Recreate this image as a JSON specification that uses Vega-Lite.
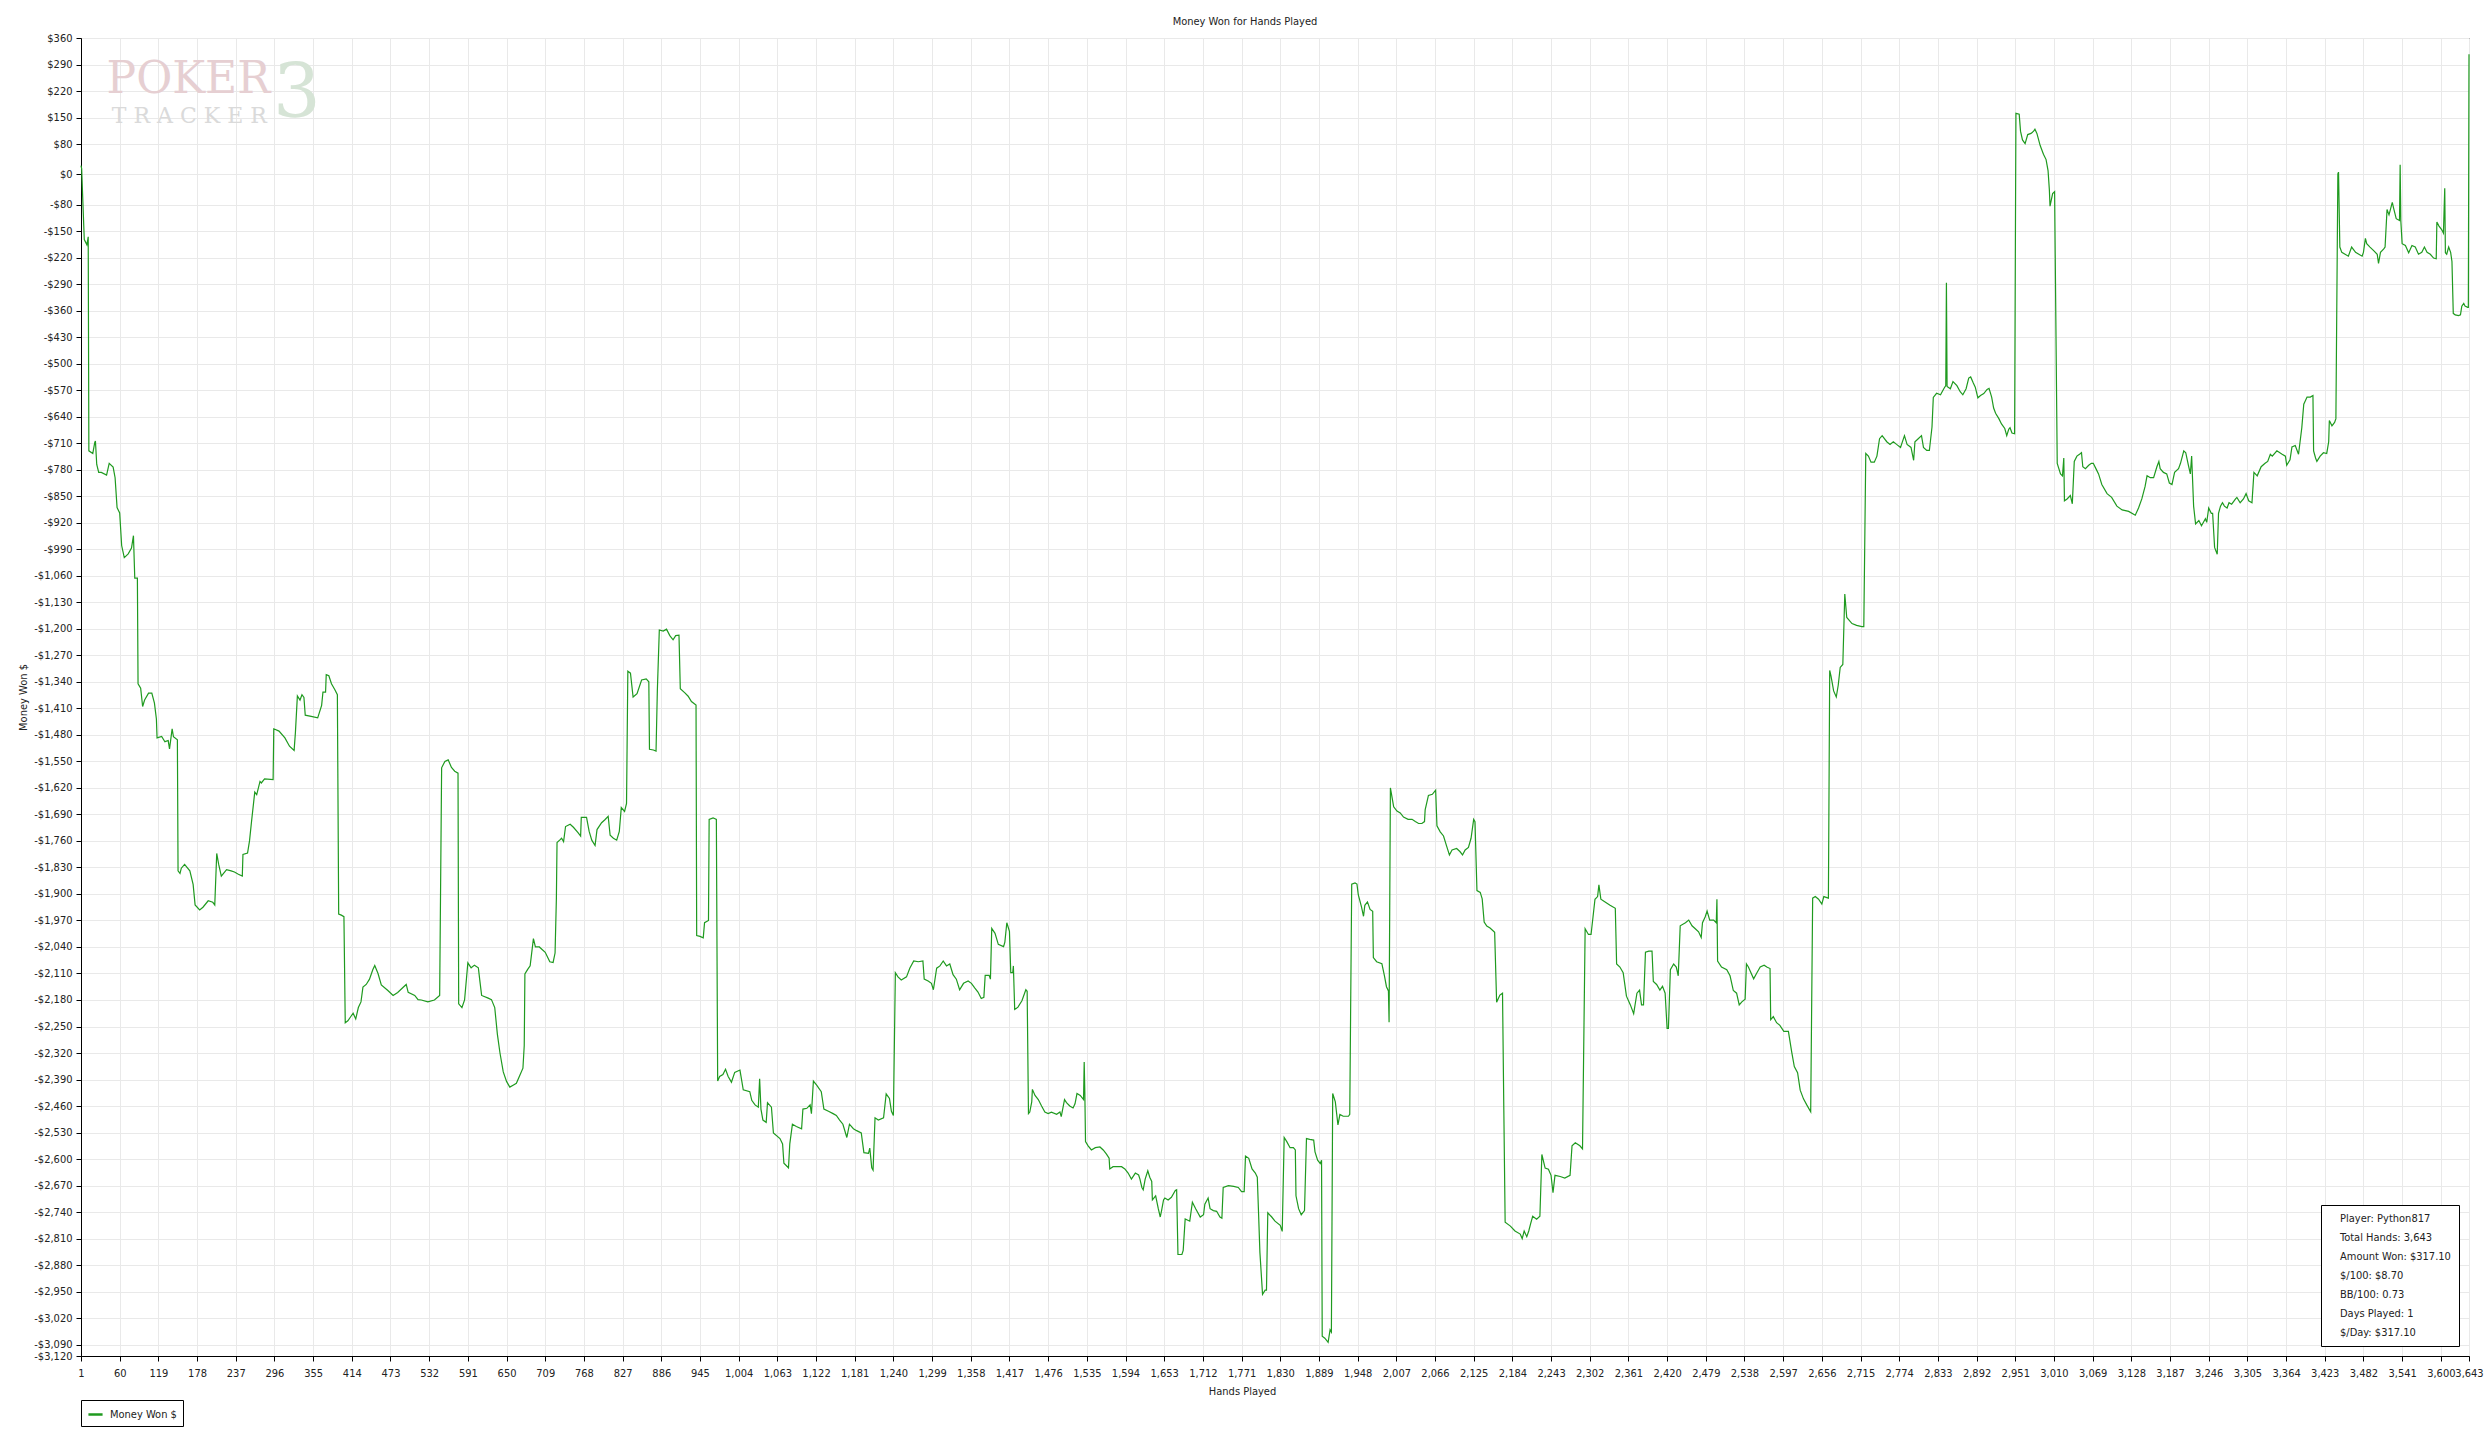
{
  "$schema": "https://vega.github.io/schema/vega-lite/v6.json",
  "autosize": {"type": "none"},
  "width": 2388,
  "height": 1318,
  "padding": {"left": 81, "top": 38, "right": 21, "bottom": 86},
  "background": "white",
  "config": {
    "font": "DejaVu Sans Condensed, Liberation Sans, sans-serif",
    "view": {"stroke": "black", "strokeWidth": 1},
    "axis": {
      "domainColor": "black", "tickColor": "black", "tickSize": 5,
      "labelFontSize": 11, "labelColor": "#222", "gridColor": "#e9e9e9",
      "titleFontSize": 11, "titleFontWeight": "normal", "titleColor": "#222",
      "labelOverlap": false, "labelFlush": false
    },
    "title": {"fontSize": 11, "fontWeight": "normal", "color": "#222"}
  },
  "title": {"text": "Money Won for Hands Played", "offset": 5, "dx": -30},
  "layer": [
    {
      "data": {"values": [{"word": "POKER"}]},
      "mark": {"type": "text", "font": "DejaVu Serif", "fontSize": 44, "fill": "#e6cfd2", "align": "left", "baseline": "middle"},
      "encoding": {"x": {"datum": 40, "type": "quantitative"}, "y": {"datum": 250, "type": "quantitative"}, "text": {"field": "word", "type": "nominal"}}
    },
    {
      "data": {"values": [{"word": "T R A C K E R"}]},
      "mark": {"type": "text", "font": "DejaVu Serif", "fontSize": 22, "fill": "#dadada", "align": "left", "baseline": "middle"},
      "encoding": {"x": {"datum": 48, "type": "quantitative"}, "y": {"datum": 154, "type": "quantitative"}, "text": {"field": "word", "type": "nominal"}}
    },
    {
      "data": {"values": [{"word": "3"}]},
      "mark": {"type": "text", "font": "DejaVu Serif", "fontSize": 75, "fill": "#d6e4d6", "align": "left", "baseline": "middle"},
      "encoding": {"x": {"datum": 294, "type": "quantitative"}, "y": {"datum": 211, "type": "quantitative"}, "text": {"field": "word", "type": "nominal"}}
    },
    {
      "data": {"values": [
        {"hand":1,"won":23},{"hand":2,"won":15},{"hand":4,"won":-80},{"hand":6,"won":-172},{"hand":8,"won":-179},{"hand":10,"won":-186},{"hand":12,"won":-165},{"hand":13,"won":-730},{"hand":19,"won":-737},{"hand":22,"won":-708},{"hand":23,"won":-704},{"hand":25,"won":-766},{"hand":28,"won":-787},{"hand":32,"won":-787},{"hand":40,"won":-794},{"hand":44,"won":-763},{"hand":50,"won":-773},{"hand":53,"won":-801},{"hand":56,"won":-880},{"hand":60,"won":-894},{"hand":63,"won":-980},{"hand":67,"won":-1012},{"hand":73,"won":-1002},{"hand":78,"won":-987},{"hand":81,"won":-954},{"hand":83,"won":-1066},{"hand":87,"won":-1066},{"hand":88,"won":-1345},{"hand":92,"won":-1357},{"hand":95,"won":-1405},{"hand":98,"won":-1388},{"hand":104,"won":-1370},{"hand":109,"won":-1370},{"hand":113,"won":-1396},{"hand":116,"won":-1438},{"hand":117,"won":-1488},{"hand":124,"won":-1484},{"hand":129,"won":-1498},{"hand":134,"won":-1495},{"hand":136,"won":-1517},{"hand":140,"won":-1464},{"hand":142,"won":-1485},{"hand":148,"won":-1493},{"hand":149,"won":-1839},{"hand":152,"won":-1846},{"hand":154,"won":-1832},{"hand":159,"won":-1822},{"hand":167,"won":-1839},{"hand":172,"won":-1875},{"hand":175,"won":-1929},{"hand":182,"won":-1942},{"hand":187,"won":-1935},{"hand":195,"won":-1918},{"hand":202,"won":-1922},{"hand":205,"won":-1929},{"hand":208,"won":-1793},{"hand":211,"won":-1822},{"hand":215,"won":-1853},{"hand":223,"won":-1836},{"hand":230,"won":-1839},{"hand":235,"won":-1842},{"hand":241,"won":-1848},{"hand":247,"won":-1853},{"hand":248,"won":-1796},{"hand":255,"won":-1792},{"hand":258,"won":-1760},{"hand":261,"won":-1710},{"hand":266,"won":-1631},{"hand":269,"won":-1638},{"hand":274,"won":-1603},{"hand":276,"won":-1607},{"hand":281,"won":-1596},{"hand":294,"won":-1598},{"hand":295,"won":-1464},{"hand":303,"won":-1470},{"hand":312,"won":-1488},{"hand":319,"won":-1510},{"hand":326,"won":-1521},{"hand":328,"won":-1474},{"hand":331,"won":-1377},{"hand":335,"won":-1388},{"hand":338,"won":-1374},{"hand":341,"won":-1381},{"hand":343,"won":-1428},{"hand":352,"won":-1431},{"hand":362,"won":-1435},{"hand":368,"won":-1402},{"hand":370,"won":-1367},{"hand":374,"won":-1367},{"hand":375,"won":-1321},{"hand":379,"won":-1324},{"hand":383,"won":-1345},{"hand":388,"won":-1360},{"hand":392,"won":-1374},{"hand":394,"won":-1953},{"hand":398,"won":-1956},{"hand":402,"won":-1960},{"hand":404,"won":-2240},{"hand":408,"won":-2235},{"hand":412,"won":-2225},{"hand":416,"won":-2215},{"hand":420,"won":-2230},{"hand":424,"won":-2200},{"hand":428,"won":-2185},{"hand":431,"won":-2146},{"hand":436,"won":-2139},{"hand":441,"won":-2125},{"hand":446,"won":-2100},{"hand":449,"won":-2089},{"hand":454,"won":-2110},{"hand":459,"won":-2140},{"hand":469,"won":-2155},{"hand":477,"won":-2168},{"hand":484,"won":-2160},{"hand":492,"won":-2147},{"hand":497,"won":-2139},{"hand":500,"won":-2160},{"hand":510,"won":-2168},{"hand":515,"won":-2179},{"hand":520,"won":-2180},{"hand":530,"won":-2185},{"hand":540,"won":-2180},{"hand":548,"won":-2168},{"hand":551,"won":-1567},{"hand":556,"won":-1550},{"hand":561,"won":-1546},{"hand":566,"won":-1566},{"hand":571,"won":-1576},{"hand":576,"won":-1581},{"hand":577,"won":-2190},{"hand":582,"won":-2200},{"hand":586,"won":-2180},{"hand":591,"won":-2082},{"hand":596,"won":-2095},{"hand":601,"won":-2088},{"hand":607,"won":-2095},{"hand":609,"won":-2125},{"hand":612,"won":-2168},{"hand":622,"won":-2175},{"hand":627,"won":-2179},{"hand":632,"won":-2200},{"hand":636,"won":-2270},{"hand":640,"won":-2320},{"hand":645,"won":-2370},{"hand":650,"won":-2395},{"hand":655,"won":-2410},{"hand":660,"won":-2405},{"hand":665,"won":-2400},{"hand":670,"won":-2380},{"hand":675,"won":-2360},{"hand":677,"won":-2300},{"hand":678,"won":-2111},{"hand":682,"won":-2100},{"hand":686,"won":-2090},{"hand":691,"won":-2018},{"hand":694,"won":-2040},{"hand":700,"won":-2040},{"hand":709,"won":-2054},{"hand":716,"won":-2079},{"hand":721,"won":-2081},{"hand":724,"won":-2056},{"hand":726,"won":-1913},{"hand":727,"won":-1764},{"hand":731,"won":-1758},{"hand":734,"won":-1753},{"hand":737,"won":-1762},{"hand":740,"won":-1722},{"hand":747,"won":-1716},{"hand":752,"won":-1724},{"hand":759,"won":-1738},{"hand":763,"won":-1747},{"hand":764,"won":-1698},{"hand":772,"won":-1698},{"hand":776,"won":-1735},{"hand":780,"won":-1758},{"hand":785,"won":-1772},{"hand":788,"won":-1730},{"hand":795,"won":-1712},{"hand":800,"won":-1704},{"hand":805,"won":-1695},{"hand":808,"won":-1745},{"hand":813,"won":-1753},{"hand":818,"won":-1758},{"hand":822,"won":-1735},{"hand":825,"won":-1672},{"hand":830,"won":-1682},{"hand":833,"won":-1661},{"hand":835,"won":-1312},{"hand":839,"won":-1317},{"hand":843,"won":-1380},{"hand":849,"won":-1371},{"hand":856,"won":-1335},{"hand":863,"won":-1332},{"hand":867,"won":-1340},{"hand":868,"won":-1518},{"hand":874,"won":-1520},{"hand":878,"won":-1523},{"hand":880,"won":-1363},{"hand":883,"won":-1203},{"hand":889,"won":-1206},{"hand":894,"won":-1201},{"hand":899,"won":-1218},{"hand":904,"won":-1229},{"hand":908,"won":-1218},{"hand":913,"won":-1217},{"hand":915,"won":-1358},{"hand":922,"won":-1369},{"hand":927,"won":-1378},{"hand":932,"won":-1392},{"hand":939,"won":-1401},{"hand":940,"won":-2010},{"hand":945,"won":-2012},{"hand":950,"won":-2016},{"hand":952,"won":-1976},{"hand":958,"won":-1970},{"hand":959,"won":-1703},{"hand":965,"won":-1699},{"hand":970,"won":-1703},{"hand":972,"won":-2394},{"hand":975,"won":-2382},{"hand":980,"won":-2377},{"hand":984,"won":-2363},{"hand":988,"won":-2382},{"hand":993,"won":-2397},{"hand":998,"won":-2371},{"hand":1006,"won":-2365},{"hand":1011,"won":-2417},{"hand":1021,"won":-2422},{"hand":1024,"won":-2445},{"hand":1029,"won":-2457},{"hand":1034,"won":-2463},{"hand":1036,"won":-2388},{"hand":1038,"won":-2468},{"hand":1041,"won":-2497},{"hand":1046,"won":-2503},{"hand":1048,"won":-2451},{"hand":1054,"won":-2463},{"hand":1057,"won":-2531},{"hand":1067,"won":-2546},{"hand":1071,"won":-2560},{"hand":1073,"won":-2611},{"hand":1080,"won":-2623},{"hand":1082,"won":-2560},{"hand":1086,"won":-2508},{"hand":1092,"won":-2514},{"hand":1100,"won":-2520},{"hand":1102,"won":-2468},{"hand":1108,"won":-2466},{"hand":1113,"won":-2457},{"hand":1115,"won":-2480},{"hand":1118,"won":-2394},{"hand":1123,"won":-2405},{"hand":1130,"won":-2422},{"hand":1134,"won":-2468},{"hand":1141,"won":-2474},{"hand":1148,"won":-2480},{"hand":1153,"won":-2485},{"hand":1158,"won":-2497},{"hand":1163,"won":-2508},{"hand":1169,"won":-2543},{"hand":1173,"won":-2508},{"hand":1179,"won":-2520},{"hand":1184,"won":-2525},{"hand":1191,"won":-2531},{"hand":1195,"won":-2583},{"hand":1202,"won":-2585},{"hand":1204,"won":-2571},{"hand":1207,"won":-2623},{"hand":1209,"won":-2629},{"hand":1212,"won":-2491},{"hand":1217,"won":-2497},{"hand":1225,"won":-2491},{"hand":1229,"won":-2428},{"hand":1234,"won":-2440},{"hand":1237,"won":-2474},{"hand":1240,"won":-2485},{"hand":1243,"won":-2108},{"hand":1247,"won":-2119},{"hand":1252,"won":-2127},{"hand":1260,"won":-2119},{"hand":1265,"won":-2096},{"hand":1271,"won":-2077},{"hand":1278,"won":-2079},{"hand":1285,"won":-2077},{"hand":1287,"won":-2125},{"hand":1293,"won":-2130},{"hand":1298,"won":-2136},{"hand":1301,"won":-2153},{"hand":1306,"won":-2096},{"hand":1311,"won":-2090},{"hand":1316,"won":-2077},{"hand":1321,"won":-2090},{"hand":1326,"won":-2085},{"hand":1331,"won":-2113},{"hand":1336,"won":-2125},{"hand":1341,"won":-2153},{"hand":1347,"won":-2136},{"hand":1354,"won":-2130},{"hand":1359,"won":-2136},{"hand":1364,"won":-2148},{"hand":1369,"won":-2159},{"hand":1374,"won":-2176},{"hand":1378,"won":-2173},{"hand":1380,"won":-2115},{"hand":1386,"won":-2115},{"hand":1388,"won":-2125},{"hand":1390,"won":-1991},{"hand":1395,"won":-2004},{"hand":1400,"won":-2033},{"hand":1408,"won":-2039},{"hand":1410,"won":-2027},{"hand":1413,"won":-1976},{"hand":1417,"won":-1999},{"hand":1419,"won":-2108},{"hand":1422,"won":-2108},{"hand":1423,"won":-2090},{"hand":1425,"won":-2205},{"hand":1430,"won":-2199},{"hand":1436,"won":-2182},{"hand":1442,"won":-2153},{"hand":1444,"won":-2157},{"hand":1446,"won":-2480},{"hand":1448,"won":-2476},{"hand":1451,"won":-2449},{"hand":1452,"won":-2416},{"hand":1456,"won":-2432},{"hand":1461,"won":-2443},{"hand":1466,"won":-2460},{"hand":1471,"won":-2476},{"hand":1476,"won":-2480},{"hand":1481,"won":-2476},{"hand":1489,"won":-2482},{"hand":1494,"won":-2476},{"hand":1496,"won":-2488},{"hand":1501,"won":-2443},{"hand":1504,"won":-2451},{"hand":1509,"won":-2460},{"hand":1514,"won":-2465},{"hand":1517,"won":-2454},{"hand":1520,"won":-2427},{"hand":1525,"won":-2432},{"hand":1530,"won":-2443},{"hand":1531,"won":-2344},{"hand":1532,"won":-2427},{"hand":1533,"won":-2554},{"hand":1537,"won":-2565},{"hand":1542,"won":-2576},{"hand":1548,"won":-2570},{"hand":1555,"won":-2568},{"hand":1560,"won":-2576},{"hand":1565,"won":-2587},{"hand":1569,"won":-2598},{"hand":1570,"won":-2626},{"hand":1575,"won":-2620},{"hand":1583,"won":-2620},{"hand":1588,"won":-2620},{"hand":1593,"won":-2626},{"hand":1598,"won":-2637},{"hand":1603,"won":-2653},{"hand":1609,"won":-2637},{"hand":1614,"won":-2642},{"hand":1616,"won":-2653},{"hand":1619,"won":-2675},{"hand":1621,"won":-2681},{"hand":1624,"won":-2653},{"hand":1628,"won":-2631},{"hand":1631,"won":-2648},{"hand":1634,"won":-2659},{"hand":1635,"won":-2708},{"hand":1640,"won":-2697},{"hand":1644,"won":-2731},{"hand":1647,"won":-2753},{"hand":1649,"won":-2736},{"hand":1652,"won":-2708},{"hand":1654,"won":-2703},{"hand":1659,"won":-2708},{"hand":1664,"won":-2701},{"hand":1670,"won":-2683},{"hand":1672,"won":-2681},{"hand":1674,"won":-2852},{"hand":1680,"won":-2852},{"hand":1682,"won":-2841},{"hand":1685,"won":-2758},{"hand":1692,"won":-2764},{"hand":1696,"won":-2714},{"hand":1701,"won":-2731},{"hand":1708,"won":-2753},{"hand":1713,"won":-2747},{"hand":1715,"won":-2719},{"hand":1720,"won":-2703},{"hand":1723,"won":-2731},{"hand":1728,"won":-2736},{"hand":1733,"won":-2738},{"hand":1738,"won":-2753},{"hand":1741,"won":-2756},{"hand":1743,"won":-2675},{"hand":1751,"won":-2670},{"hand":1759,"won":-2672},{"hand":1766,"won":-2675},{"hand":1771,"won":-2686},{"hand":1775,"won":-2686},{"hand":1777,"won":-2592},{"hand":1782,"won":-2598},{"hand":1787,"won":-2626},{"hand":1792,"won":-2637},{"hand":1795,"won":-2648},{"hand":1797,"won":-2747},{"hand":1799,"won":-2847},{"hand":1803,"won":-2957},{"hand":1807,"won":-2946},{"hand":1809,"won":-2946},{"hand":1811,"won":-2742},{"hand":1817,"won":-2753},{"hand":1822,"won":-2764},{"hand":1830,"won":-2775},{"hand":1833,"won":-2791},{"hand":1836,"won":-2543},{"hand":1840,"won":-2554},{"hand":1845,"won":-2570},{"hand":1850,"won":-2570},{"hand":1853,"won":-2576},{"hand":1854,"won":-2697},{"hand":1858,"won":-2731},{"hand":1862,"won":-2747},{"hand":1867,"won":-2736},{"hand":1870,"won":-2546},{"hand":1875,"won":-2548},{"hand":1881,"won":-2550},{"hand":1883,"won":-2581},{"hand":1887,"won":-2603},{"hand":1891,"won":-2612},{"hand":1893,"won":-2603},{"hand":1894,"won":-3068},{"hand":1898,"won":-3073},{"hand":1903,"won":-3084},{"hand":1906,"won":-3051},{"hand":1908,"won":-3057},{"hand":1910,"won":-2427},{"hand":1914,"won":-2449},{"hand":1918,"won":-2510},{"hand":1921,"won":-2482},{"hand":1926,"won":-2487},{"hand":1934,"won":-2487},{"hand":1936,"won":-2482},{"hand":1939,"won":-1874},{"hand":1944,"won":-1871},{"hand":1947,"won":-1874},{"hand":1949,"won":-1902},{"hand":1954,"won":-1935},{"hand":1957,"won":-1959},{"hand":1959,"won":-1930},{"hand":1963,"won":-1921},{"hand":1967,"won":-1941},{"hand":1971,"won":-1946},{"hand":1972,"won":-2068},{"hand":1977,"won":-2079},{"hand":1985,"won":-2084},{"hand":1989,"won":-2117},{"hand":1992,"won":-2145},{"hand":1995,"won":-2156},{"hand":1996,"won":-2239},{"hand":1998,"won":-1620},{"hand":2003,"won":-1670},{"hand":2008,"won":-1681},{"hand":2013,"won":-1686},{"hand":2018,"won":-1697},{"hand":2025,"won":-1703},{"hand":2031,"won":-1703},{"hand":2036,"won":-1709},{"hand":2041,"won":-1714},{"hand":2046,"won":-1714},{"hand":2050,"won":-1709},{"hand":2051,"won":-1678},{"hand":2056,"won":-1640},{"hand":2062,"won":-1637},{"hand":2067,"won":-1626},{"hand":2069,"won":-1720},{"hand":2074,"won":-1736},{"hand":2079,"won":-1747},{"hand":2084,"won":-1775},{"hand":2088,"won":-1797},{"hand":2092,"won":-1784},{"hand":2099,"won":-1780},{"hand":2104,"won":-1788},{"hand":2108,"won":-1797},{"hand":2112,"won":-1784},{"hand":2117,"won":-1777},{"hand":2121,"won":-1753},{"hand":2125,"won":-1703},{"hand":2127,"won":-1709},{"hand":2130,"won":-1891},{"hand":2135,"won":-1896},{"hand":2138,"won":-1913},{"hand":2141,"won":-1974},{"hand":2145,"won":-1985},{"hand":2150,"won":-1990},{"hand":2157,"won":-2001},{"hand":2160,"won":-2186},{"hand":2165,"won":-2167},{"hand":2169,"won":-2162},{"hand":2171,"won":-2472},{"hand":2173,"won":-2767},{"hand":2181,"won":-2777},{"hand":2188,"won":-2790},{"hand":2196,"won":-2798},{"hand":2199,"won":-2810},{"hand":2202,"won":-2790},{"hand":2206,"won":-2805},{"hand":2209,"won":-2790},{"hand":2212,"won":-2770},{"hand":2215,"won":-2751},{"hand":2221,"won":-2759},{"hand":2226,"won":-2751},{"hand":2229,"won":-2588},{"hand":2234,"won":-2624},{"hand":2239,"won":-2627},{"hand":2243,"won":-2643},{"hand":2246,"won":-2689},{"hand":2249,"won":-2643},{"hand":2257,"won":-2646},{"hand":2264,"won":-2650},{"hand":2272,"won":-2643},{"hand":2275,"won":-2565},{"hand":2280,"won":-2557},{"hand":2287,"won":-2565},{"hand":2291,"won":-2573},{"hand":2295,"won":-1992},{"hand":2300,"won":-2007},{"hand":2304,"won":-2007},{"hand":2307,"won":-1961},{"hand":2310,"won":-1914},{"hand":2314,"won":-1907},{"hand":2316,"won":-1876},{"hand":2319,"won":-1914},{"hand":2326,"won":-1922},{"hand":2333,"won":-1930},{"hand":2341,"won":-1938},{"hand":2343,"won":-2085},{"hand":2348,"won":-2093},{"hand":2353,"won":-2108},{"hand":2358,"won":-2170},{"hand":2364,"won":-2193},{"hand":2369,"won":-2216},{"hand":2374,"won":-2162},{"hand":2378,"won":-2154},{"hand":2381,"won":-2193},{"hand":2384,"won":-2193},{"hand":2387,"won":-2054},{"hand":2392,"won":-2051},{"hand":2397,"won":-2051},{"hand":2399,"won":-2131},{"hand":2404,"won":-2139},{"hand":2409,"won":-2154},{"hand":2413,"won":-2144},{"hand":2417,"won":-2162},{"hand":2420,"won":-2255},{"hand":2422,"won":-2255},{"hand":2425,"won":-2100},{"hand":2430,"won":-2085},{"hand":2434,"won":-2093},{"hand":2437,"won":-2116},{"hand":2440,"won":-1984},{"hand":2448,"won":-1976},{"hand":2453,"won":-1969},{"hand":2458,"won":-1984},{"hand":2463,"won":-1992},{"hand":2468,"won":-2000},{"hand":2472,"won":-2015},{"hand":2474,"won":-1976},{"hand":2478,"won":-1961},{"hand":2481,"won":-1945},{"hand":2485,"won":-1969},{"hand":2491,"won":-1969},{"hand":2495,"won":-1976},{"hand":2496,"won":-1914},{"hand":2497,"won":-2077},{"hand":2503,"won":-2093},{"hand":2511,"won":-2100},{"hand":2516,"won":-2116},{"hand":2521,"won":-2155},{"hand":2526,"won":-2162},{"hand":2530,"won":-2193},{"hand":2534,"won":-2185},{"hand":2539,"won":-2178},{"hand":2541,"won":-2085},{"hand":2544,"won":-2093},{"hand":2552,"won":-2124},{"hand":2557,"won":-2108},{"hand":2562,"won":-2093},{"hand":2568,"won":-2088},{"hand":2572,"won":-2093},{"hand":2577,"won":-2097},{"hand":2578,"won":-2232},{"hand":2582,"won":-2224},{"hand":2587,"won":-2240},{"hand":2592,"won":-2247},{"hand":2598,"won":-2263},{"hand":2605,"won":-2263},{"hand":2610,"won":-2317},{"hand":2614,"won":-2356},{"hand":2619,"won":-2372},{"hand":2623,"won":-2418},{"hand":2628,"won":-2441},{"hand":2633,"won":-2457},{"hand":2639,"won":-2475},{"hand":2642,"won":-1911},{"hand":2646,"won":-1907},{"hand":2651,"won":-1914},{"hand":2656,"won":-1927},{"hand":2659,"won":-1907},{"hand":2666,"won":-1911},{"hand":2668,"won":-1310},{"hand":2670,"won":-1325},{"hand":2674,"won":-1364},{"hand":2678,"won":-1380},{"hand":2681,"won":-1349},{"hand":2684,"won":-1302},{"hand":2688,"won":-1294},{"hand":2691,"won":-1108},{"hand":2694,"won":-1170},{"hand":2702,"won":-1186},{"hand":2709,"won":-1191},{"hand":2717,"won":-1194},{"hand":2720,"won":-1194},{"hand":2723,"won":-737},{"hand":2727,"won":-744},{"hand":2731,"won":-760},{"hand":2736,"won":-760},{"hand":2740,"won":-744},{"hand":2744,"won":-698},{"hand":2748,"won":-690},{"hand":2755,"won":-706},{"hand":2760,"won":-713},{"hand":2765,"won":-706},{"hand":2770,"won":-713},{"hand":2776,"won":-721},{"hand":2782,"won":-690},{"hand":2786,"won":-713},{"hand":2792,"won":-721},{"hand":2796,"won":-755},{"hand":2798,"won":-706},{"hand":2803,"won":-698},{"hand":2808,"won":-690},{"hand":2811,"won":-721},{"hand":2816,"won":-729},{"hand":2820,"won":-729},{"hand":2824,"won":-667},{"hand":2826,"won":-589},{"hand":2831,"won":-578},{"hand":2837,"won":-582},{"hand":2842,"won":-566},{"hand":2845,"won":-558},{"hand":2846,"won":-286},{"hand":2847,"won":-560},{"hand":2852,"won":-566},{"hand":2856,"won":-547},{"hand":2862,"won":-558},{"hand":2867,"won":-574},{"hand":2871,"won":-582},{"hand":2876,"won":-566},{"hand":2880,"won":-538},{"hand":2883,"won":-535},{"hand":2887,"won":-551},{"hand":2890,"won":-562},{"hand":2894,"won":-590},{"hand":2898,"won":-584},{"hand":2903,"won":-579},{"hand":2908,"won":-568},{"hand":2911,"won":-565},{"hand":2915,"won":-588},{"hand":2918,"won":-617},{"hand":2921,"won":-631},{"hand":2926,"won":-645},{"hand":2930,"won":-659},{"hand":2935,"won":-671},{"hand":2938,"won":-690},{"hand":2941,"won":-673},{"hand":2943,"won":-669},{"hand":2946,"won":-683},{"hand":2950,"won":-685},{"hand":2952,"won":161},{"hand":2957,"won":159},{"hand":2959,"won":114},{"hand":2962,"won":91},{"hand":2966,"won":81},{"hand":2970,"won":105},{"hand":2975,"won":108},{"hand":2979,"won":114},{"hand":2981,"won":119},{"hand":2984,"won":108},{"hand":2989,"won":76},{"hand":2994,"won":53},{"hand":2998,"won":39},{"hand":3001,"won":10},{"hand":3003,"won":-41},{"hand":3004,"won":-84},{"hand":3008,"won":-51},{"hand":3011,"won":-46},{"hand":3015,"won":-763},{"hand":3020,"won":-791},{"hand":3023,"won":-796},{"hand":3025,"won":-749},{"hand":3026,"won":-862},{"hand":3030,"won":-857},{"hand":3035,"won":-848},{"hand":3038,"won":-870},{"hand":3041,"won":-758},{"hand":3045,"won":-744},{"hand":3049,"won":-739},{"hand":3052,"won":-735},{"hand":3054,"won":-772},{"hand":3058,"won":-777},{"hand":3063,"won":-768},{"hand":3067,"won":-763},{"hand":3070,"won":-763},{"hand":3074,"won":-777},{"hand":3078,"won":-791},{"hand":3083,"won":-819},{"hand":3091,"won":-843},{"hand":3098,"won":-853},{"hand":3106,"won":-876},{"hand":3114,"won":-886},{"hand":3124,"won":-890},{"hand":3134,"won":-900},{"hand":3139,"won":-881},{"hand":3144,"won":-857},{"hand":3149,"won":-824},{"hand":3152,"won":-796},{"hand":3157,"won":-801},{"hand":3162,"won":-801},{"hand":3167,"won":-772},{"hand":3170,"won":-758},{"hand":3172,"won":-777},{"hand":3177,"won":-787},{"hand":3182,"won":-791},{"hand":3186,"won":-815},{"hand":3190,"won":-819},{"hand":3194,"won":-787},{"hand":3200,"won":-777},{"hand":3203,"won":-763},{"hand":3208,"won":-730},{"hand":3211,"won":-735},{"hand":3215,"won":-768},{"hand":3218,"won":-791},{"hand":3220,"won":-744},{"hand":3223,"won":-876},{"hand":3226,"won":-923},{"hand":3231,"won":-914},{"hand":3235,"won":-928},{"hand":3241,"won":-909},{"hand":3243,"won":-919},{"hand":3246,"won":-881},{"hand":3250,"won":-895},{"hand":3252,"won":-895},{"hand":3255,"won":-985},{"hand":3259,"won":-1003},{"hand":3261,"won":-895},{"hand":3264,"won":-876},{"hand":3267,"won":-867},{"hand":3270,"won":-876},{"hand":3274,"won":-881},{"hand":3277,"won":-867},{"hand":3281,"won":-871},{"hand":3287,"won":-857},{"hand":3289,"won":-853},{"hand":3294,"won":-867},{"hand":3299,"won":-857},{"hand":3303,"won":-843},{"hand":3307,"won":-862},{"hand":3312,"won":-867},{"hand":3315,"won":-787},{"hand":3320,"won":-796},{"hand":3326,"won":-772},{"hand":3332,"won":-763},{"hand":3336,"won":-758},{"hand":3340,"won":-739},{"hand":3343,"won":-744},{"hand":3350,"won":-730},{"hand":3358,"won":-739},{"hand":3363,"won":-744},{"hand":3365,"won":-768},{"hand":3370,"won":-754},{"hand":3373,"won":-720},{"hand":3378,"won":-716},{"hand":3383,"won":-739},{"hand":3388,"won":-669},{"hand":3391,"won":-607},{"hand":3396,"won":-588},{"hand":3401,"won":-588},{"hand":3405,"won":-584},{"hand":3406,"won":-730},{"hand":3409,"won":-749},{"hand":3411,"won":-758},{"hand":3416,"won":-744},{"hand":3421,"won":-735},{"hand":3426,"won":-737},{"hand":3429,"won":-706},{"hand":3430,"won":-650},{"hand":3434,"won":-664},{"hand":3438,"won":-655},{"hand":3440,"won":-645},{"hand":3443,"won":1},{"hand":3444,"won":6},{"hand":3446,"won":-192},{"hand":3449,"won":-206},{"hand":3454,"won":-211},{"hand":3459,"won":-216},{"hand":3464,"won":-192},{"hand":3470,"won":-206},{"hand":3475,"won":-211},{"hand":3480,"won":-216},{"hand":3482,"won":-206},{"hand":3485,"won":-169},{"hand":3487,"won":-183},{"hand":3492,"won":-192},{"hand":3498,"won":-202},{"hand":3503,"won":-211},{"hand":3505,"won":-235},{"hand":3508,"won":-206},{"hand":3513,"won":-197},{"hand":3515,"won":-192},{"hand":3518,"won":-93},{"hand":3521,"won":-107},{"hand":3526,"won":-74},{"hand":3528,"won":-89},{"hand":3532,"won":-117},{"hand":3537,"won":-122},{"hand":3538,"won":25},{"hand":3539,"won":-122},{"hand":3541,"won":-183},{"hand":3546,"won":-188},{"hand":3551,"won":-207},{"hand":3556,"won":-188},{"hand":3561,"won":-192},{"hand":3566,"won":-211},{"hand":3571,"won":-206},{"hand":3575,"won":-192},{"hand":3579,"won":-206},{"hand":3584,"won":-211},{"hand":3589,"won":-221},{"hand":3593,"won":-223},{"hand":3594,"won":-126},{"hand":3597,"won":-136},{"hand":3601,"won":-145},{"hand":3604,"won":-155},{"hand":3606,"won":-37},{"hand":3607,"won":-207},{"hand":3609,"won":-211},{"hand":3612,"won":-192},{"hand":3615,"won":-206},{"hand":3617,"won":-230},{"hand":3619,"won":-367},{"hand":3622,"won":-371},{"hand":3627,"won":-373},{"hand":3630,"won":-371},{"hand":3632,"won":-348},{"hand":3635,"won":-341},{"hand":3637,"won":-348},{"hand":3641,"won":-351},{"hand":3642,"won":-351},{"hand":3643,"won":317.1}
      ]},
      "mark": {"type": "line", "strokeWidth": 1.2, "interpolate": "linear"},
      "encoding": {
        "x": {
          "field": "hand", "type": "quantitative",
          "scale": {"domain": [1, 3643], "nice": false, "zero": false},
          "axis": {
            "title": "Hands Played", "titleX": 1161, "titlePadding": 7,
            "values": [1,60,119,178,237,296,355,414,473,532,591,650,709,768,827,886,945,1004,1063,1122,1181,1240,1299,1358,1417,1476,1535,1594,1653,1712,1771,1830,1889,1948,2007,2066,2125,2184,2243,2302,2361,2420,2479,2538,2597,2656,2715,2774,2833,2892,2951,3010,3069,3128,3187,3246,3305,3364,3423,3482,3541,3600,3643],
            "tickCount": 200,
            "format": ",d", "labelPadding": 6, "grid": true,
            "labelOverlap": false, "labelFlush": false, "labelBound": false
          }
        },
        "y": {
          "field": "won", "type": "quantitative",
          "scale": {"domain": [-3120, 360], "nice": false, "zero": false},
          "axis": {
            "title": "Money Won $", "titlePadding": 5,
            "values": [360,290,220,150,80,0,-80,-150,-220,-290,-360,-430,-500,-570,-640,-710,-780,-850,-920,-990,-1060,-1130,-1200,-1270,-1340,-1410,-1480,-1550,-1620,-1690,-1760,-1830,-1900,-1970,-2040,-2110,-2180,-2250,-2320,-2390,-2460,-2530,-2600,-2670,-2740,-2810,-2880,-2950,-3020,-3090,-3120],
            "tickCount": 200,
            "labelExpr": "datum.value < 0 ? '-$' + format(-datum.value, ',') : '$' + format(datum.value, ',')",
            "labelPadding": 4, "grid": true,
            "labelOverlap": false, "labelFlush": false, "labelBound": false
          }
        },
        "color": {
          "datum": "Money Won $", "type": "nominal",
          "scale": {"range": ["#1f9a1f"]},
          "legend": {
            "title": null, "orient": "bottom", "offset": 4, "symbolType": "stroke",
            "symbolStrokeWidth": 2.5, "symbolSize": 200, "strokeColor": "black",
            "padding": 6, "labelFontSize": 11, "labelColor": "#222", "labelOffset": 6
          }
        }
      }
    },
    {
      "mark": {"type": "rule", "color": "black", "strokeWidth": 1},
      "encoding": {"y": {"datum": 0}}
    },
    {
      "data": {"values": [
        {"stat": "Player: Python817"},
        {"stat": "Total Hands: 3,643"},
        {"stat": "Amount Won: $317.10"},
        {"stat": "$/100: $8.70"},
        {"stat": "BB/100: 0.73"},
        {"stat": "Days Played: 1"},
        {"stat": "$/Day: $317.10"}
      ]},
      "mark": {"type": "point", "opacity": 0},
      "encoding": {
        "shape": {
          "field": "stat", "type": "nominal", "sort": null,
          "legend": {
            "title": null, "orient": "bottom-right", "offset": 10,
            "strokeColor": "black", "fillColor": "white", "padding": 8,
            "symbolSize": 1, "symbolOpacity": 0, "symbolStrokeWidth": 0, "labelOffset": 0,
            "rowPadding": 7, "labelFontSize": 11, "labelColor": "#222", "labelLimit": 0
          }
        }
      }
    }
  ]
}
